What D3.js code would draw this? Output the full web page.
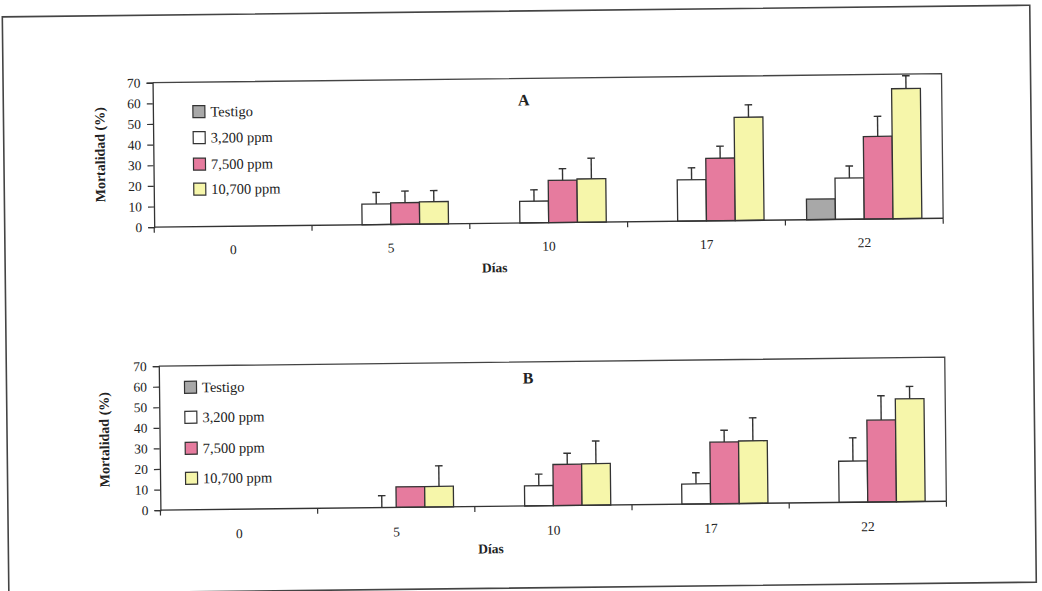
<!DOCTYPE html>
<html>
<head>
<meta charset="utf-8">
<script src="https://cdn.jsdelivr.net/npm/d3@7"></script>
<style>
  body { margin: 0; background: #fff; }
  svg { display: block; }
  text { font-family: "Liberation Serif", "Times New Roman", serif; fill: #222; }
</style>
</head>
<body>
<div id="chart"></div>
<script>
// Data
const days = ['0', '5', '10', '17', '22'];
const seriesNames = ['Testigo', '3,200 ppm', '7,500 ppm', '10,700 ppm'];
const seriesColors = ['#a8a8a8', '#ffffff', '#e67b9e', '#f6f6aa'];
const yTicks = [0, 10, 20, 30, 40, 50, 60, 70];

// panel A: mean mortality per series, days in order
const aTestigo = [0, 0, 0, 0, 10];
const a3200 = [0, 10, 10.5, 20, 20];
const a7500 = [0, 10.5, 20.5, 30.3, 40];
const a10700 = [0, 10.8, 21, 50, 63];
// panel A: error (upper bar length)
const aTestigoErr = [0, 0, 0, 0, 0];
const a3200Err = [0, 5.6, 5.5, 5.8, 5.8];
const a7500Err = [0, 5.6, 5.6, 5.8, 9.7];
const a10700Err = [0, 5.4, 10, 6, 6.2];

// panel B
const bTestigo = [0, 0, 0, 0, 0];
const b3200 = [0, 0, 9.8, 9.8, 20];
const b7500 = [0, 10, 20, 30, 39.8];
const b10700 = [0, 10, 20.2, 30.4, 50];
const bTestigoErr = [0, 0, 0, 0, 0];
const b3200Err = [0, 5.8, 5.6, 5.4, 11.3];
const b7500Err = [0, 0, 5.4, 5.7, 11.8];
const b10700Err = [0, 10, 11, 11.2, 6];

const width = 1042;
const height = 591;

const svg = d3.select('#chart')
  .append('svg')
  .attr('width', width)
  .attr('height', height);

// the scanned page is a little tilted
const page = svg.append('g')
  .attr('transform', 'rotate(-0.65, 521, 295)');

page.append('rect')
  .attr('x', 5.5)
  .attr('y', 11)
  .attr('width', 1027.5)
  .attr('height', 577)
  .attr('fill', 'none')
  .attr('stroke', '#444')
  .attr('stroke-width', 1.6);

const panels = [
  {
    title: 'A',
    means: [aTestigo, a3200, a7500, a10700],
    errs: [aTestigoErr, a3200Err, a7500Err, a10700Err],
    left: 155, right: 944, top: 78.5, bottom: 223,
    titleX: 526, titleY: 100,
    legX: 195, legY: [108, 134, 160.5, 185.5],
    yLabelX: 101.5, yLabelY: 150,
    xLabelY: 251, diasX: 495, diasY: 272
  },
  {
    title: 'B',
    means: [bTestigo, b3200, b7500, b10700],
    errs: [bTestigoErr, b3200Err, b7500Err, b10700Err],
    left: 158, right: 944, top: 362, bottom: 506,
    titleX: 527, titleY: 378,
    legX: 183.5, legY: [383.5, 413.5, 444.5, 474.5],
    yLabelX: 102.5, yLabelY: 435,
    xLabelY: 535, diasX: 488, diasY: 553
  }
];

panels.forEach(p => {
  const g = page.append('g');

  const xScale = d3.scaleBand()
    .domain(days)
    .range([p.left, p.right]);

  const bw = xScale.bandwidth();
  const xInner = d3.scaleBand()
    .domain(seriesNames)
    .range([bw * 0.135, bw * 0.865]);

  const yScale = d3.scaleLinear()
    .domain([0, 70])
    .range([p.bottom, p.top]);

  // plot frame (top + right)
  g.append('path')
    .attr('d', `M${p.left},${p.top}H${p.right}V${p.bottom}`)
    .attr('fill', 'none')
    .attr('stroke', '#444')
    .attr('stroke-width', 1.3);

  // bars
  seriesNames.forEach((name, si) => {
    const rows = days.map((d, i) => ({ day: d, v: p.means[si][i], e: p.errs[si][i] }));

    g.append('g')
      .selectAll('rect')
      .data(rows.filter(r => r.v > 0))
      .join('rect')
      .attr('x', r => xScale(r.day) + xInner(name))
      .attr('y', r => yScale(r.v))
      .attr('width', xInner.bandwidth())
      .attr('height', r => yScale(0) - yScale(r.v))
      .attr('fill', seriesColors[si])
      .attr('stroke', '#333')
      .attr('stroke-width', 1.3);

    const errG = g.append('g')
      .selectAll('g')
      .data(rows.filter(r => r.e > 0))
      .join('g')
      .attr('stroke', '#333')
      .attr('stroke-width', 1.4);

    errG.append('line')
      .attr('x1', r => xScale(r.day) + xInner(name) + xInner.bandwidth() / 2)
      .attr('x2', r => xScale(r.day) + xInner(name) + xInner.bandwidth() / 2)
      .attr('y1', r => yScale(r.v))
      .attr('y2', r => yScale(r.v + r.e));

    errG.append('line')
      .attr('x1', r => xScale(r.day) + xInner(name) + xInner.bandwidth() / 2 - 3.8)
      .attr('x2', r => xScale(r.day) + xInner(name) + xInner.bandwidth() / 2 + 3.8)
      .attr('y1', r => yScale(r.v + r.e))
      .attr('y2', r => yScale(r.v + r.e));
  });

  // y axis
  const yAxis = d3.axisLeft(yScale)
    .tickValues(yTicks)
    .tickSize(6)
    .tickPadding(6);

  const yG = g.append('g')
    .attr('transform', `translate(${p.left},0)`)
    .call(yAxis);
  yG.select('.domain').attr('stroke', '#333').attr('stroke-width', 1.3);
  yG.selectAll('.tick line').attr('stroke', '#333').attr('stroke-width', 1.2);
  yG.selectAll('.tick text')
    .attr('font-family', '"Liberation Serif", serif')
    .attr('font-size', '13.5px')
    .attr('fill', '#222');

  // x axis: ticks on category boundaries
  const boundaries = days.map(d => xScale(d)).concat([p.right]);
  const xG = g.append('g');
  xG.append('line')
    .attr('x1', p.left).attr('x2', p.right)
    .attr('y1', p.bottom).attr('y2', p.bottom)
    .attr('stroke', '#333').attr('stroke-width', 1.4);
  xG.selectAll('.bt')
    .data(boundaries)
    .join('line')
    .attr('class', 'bt')
    .attr('x1', d => d).attr('x2', d => d)
    .attr('y1', p.bottom).attr('y2', p.bottom + 5.5)
    .attr('stroke', '#333').attr('stroke-width', 1.2);
  xG.selectAll('text')
    .data(days)
    .join('text')
    .attr('x', d => xScale(d) + bw / 2)
    .attr('y', p.xLabelY)
    .attr('text-anchor', 'middle')
    .attr('font-size', '13.5px')
    .text(d => d);

  g.append('text')
    .attr('x', p.diasX)
    .attr('y', p.diasY)
    .attr('text-anchor', 'middle')
    .attr('font-size', '13.5px')
    .attr('font-weight', 'bold')
    .text('Días');

  g.append('text')
    .attr('transform', `translate(${p.yLabelX},${p.yLabelY}) rotate(-90)`)
    .attr('text-anchor', 'middle')
    .attr('dy', '0.35em')
    .attr('font-size', '14px')
    .attr('font-weight', 'bold')
    .text('Mortalidad (%)');

  g.append('text')
    .attr('x', p.titleX)
    .attr('y', p.titleY)
    .attr('dy', '0.35em')
    .attr('text-anchor', 'middle')
    .attr('font-size', '16px')
    .attr('font-weight', 'bold')
    .text(p.title);

  // legend
  const leg = g.append('g')
    .selectAll('g')
    .data(seriesNames)
    .join('g')
    .attr('transform', (d, i) => `translate(${p.legX},${p.legY[i]})`);

  leg.append('rect')
    .attr('x', 0).attr('y', -6)
    .attr('width', 12).attr('height', 12)
    .attr('fill', (d, i) => seriesColors[i])
    .attr('stroke', '#333')
    .attr('stroke-width', 1.2);

  leg.append('text')
    .attr('x', 17.5)
    .attr('dy', '0.35em')
    .attr('font-size', '14.5px')
    .text(d => d);
});
</script>
</body>
</html>
